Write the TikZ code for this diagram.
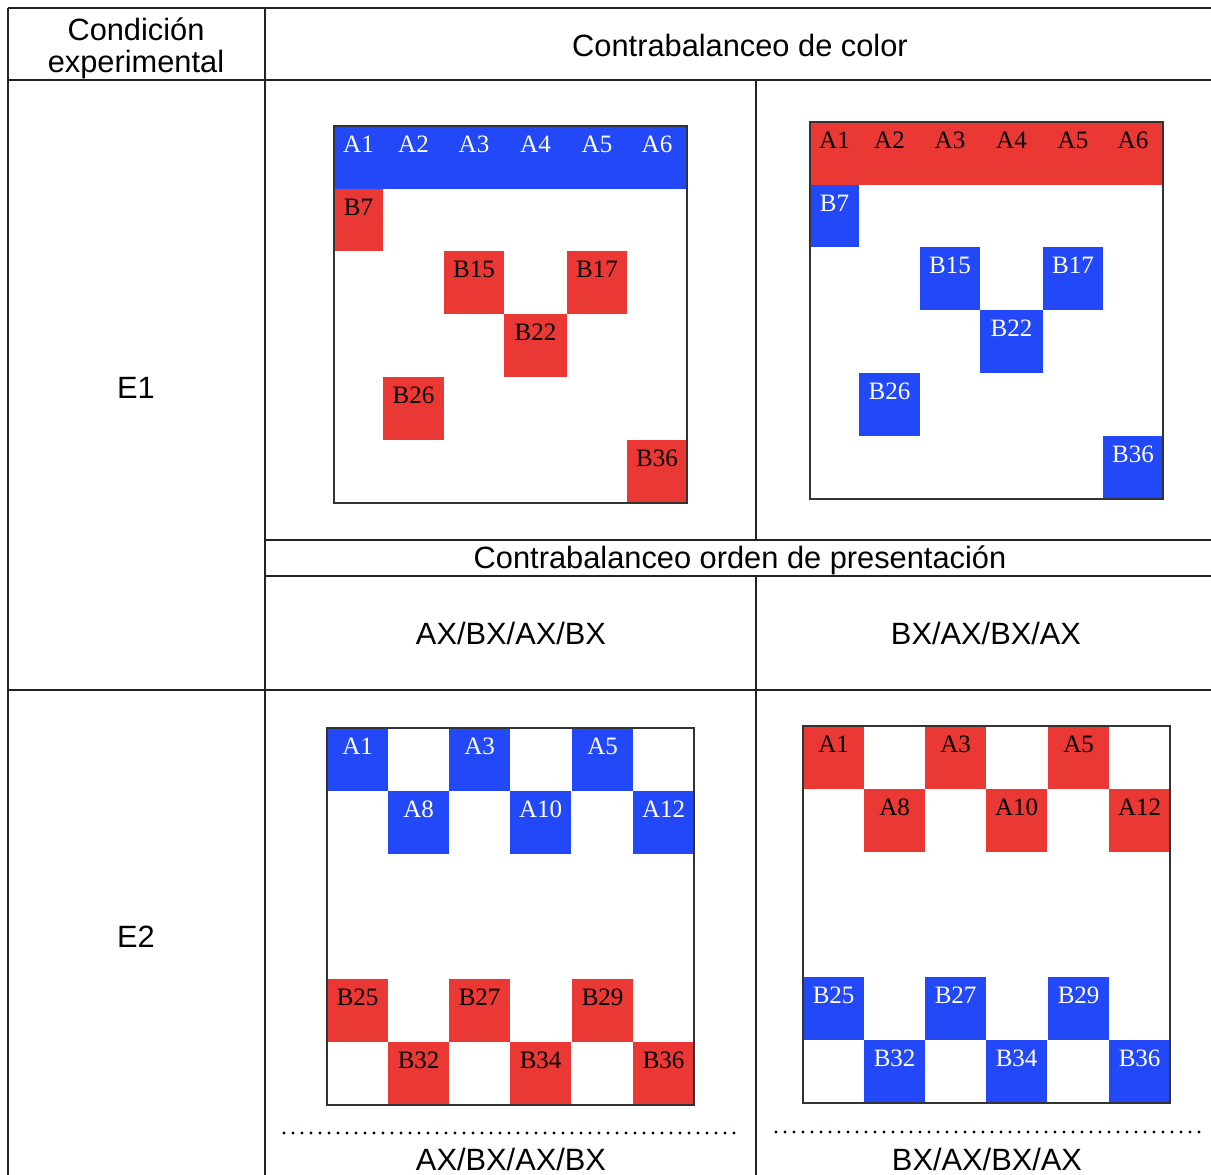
\documentclass[tikz,border=0pt]{standalone}
\usepackage{fontspec}
\setmainfont{Liberation Sans}
\newfontfamily\cellfont{Liberation Serif}
\definecolor{cblue}{HTML}{2348F7}
\definecolor{cred}{HTML}{EA3834}
\definecolor{rule}{HTML}{222222}
\definecolor{frame}{HTML}{333333}
\tikzset{
  tabline/.style={draw=rule, line width=1.5pt},
  hdr/.style={font=\fontsize{30.8}{36}\selectfont, anchor=base, inner sep=0pt},
  cellbox/.style={draw=none, inner sep=0pt, outer sep=0pt, rectangle, anchor=north west},
  celllabel/.style={font=\cellfont\fontsize{25}{28}\selectfont, anchor=base, inner sep=0pt},
  gridframe/.style={draw=frame, line width=2pt, fill=none, inner sep=0pt, outer sep=0pt, rectangle, anchor=north west},
  dotline/.style={draw=black!80!blue, line width=3.2pt, line cap=round, dash pattern=on 0pt off 9pt},
}
% name, x, y, w, h, fill, textcolour, label
\newcommand\mkcell[8]{%
  \node[cellbox, fill=#6, minimum width=#4, minimum height=#5] (#1) at (#2,#3) {};
  \node[celllabel, text=#7] (#1t) at ([yshift=-26pt]#1.north) {#8};}
\begin{document}
\begin{tikzpicture}[x=1pt, y=-1pt]
\useasboundingbox (0,0) rectangle (1211,1175);
\fill[white] (0,0) rectangle (1211,1175);

% ---- table rules
\draw[tabline] (8,8) -- (1211,8);
\draw[tabline] (8,80) -- (1211,80);
\draw[tabline] (265,540) -- (1211,540);
\draw[tabline] (265,576) -- (1211,576);
\draw[tabline] (8,690) -- (1211,690);
\draw[tabline] (8,8) -- (8,1175);
\draw[tabline] (265,8) -- (265,1175);
\draw[tabline] (756,80) -- (756,540);
\draw[tabline] (756,576) -- (756,1175);

% ---- header texts
\node[hdr] (cond1) at (136,40) {Condición};
\node[hdr] (cond2) at (136,72) {experimental};
\node[hdr] (hcolor) at (740,56) {Contrabalanceo de color};
\node[hdr] (e1) at (136,398) {E1};
\node[hdr] (e2) at (136,947) {E2};
\node[hdr] (horden) at (740,568) {Contrabalanceo orden de presentación};
\node[hdr] (ord1) at (511,644) {AX/BX/AX/BX};
\node[hdr] (ord2) at (986,644) {BX/AX/BX/AX};
\node[hdr] (ord3) at (511,1170) {AX/BX/AX/BX};
\node[hdr] (ord4) at (987,1170) {BX/AX/BX/AX};

% ---- dotted lines
\coordinate (d1a) at (284,1133);
\coordinate (d1b) at (740,1133);
\coordinate (d2a) at (776,1132);
\coordinate (d2b) at (1200,1132);
\draw[dotline] (d1a) -- (d1b);
\draw[dotline] (d2a) -- (d2b);

% ---- Grid 1 (E1, left): blue A row, red B cells
\node[cellbox, fill=cblue, minimum width=353, minimum height=63] (g1a) at (334,126) {};
\foreach \lab/\cx in {A1/358.5, A2/413.5, A3/474, A4/535.5, A5/597, A6/657}
  \node[celllabel, text=white] (g1\lab) at (\cx,152) {\lab};
\mkcell{g1b7}{334}{189}{49}{62}{cred}{black}{B7}
\mkcell{g1b15}{444}{251}{60}{63}{cred}{black}{B15}
\mkcell{g1b17}{567}{251}{60}{63}{cred}{black}{B17}
\mkcell{g1b22}{504}{314}{63}{63}{cred}{black}{B22}
\mkcell{g1b26}{383}{377}{61}{63}{cred}{black}{B26}
\mkcell{g1b36}{627}{440}{60}{63}{cred}{black}{B36}
\node[gridframe, minimum width=353, minimum height=377] (g1) at (334,126) {};

% ---- Grid 2 (E1, right): red A row, blue B cells
\node[cellbox, fill=cred, minimum width=353, minimum height=63] (g2a) at (810,122) {};
\foreach \lab/\cx in {A1/834.5, A2/889.5, A3/950, A4/1011.5, A5/1073, A6/1133}
  \node[celllabel, text=black] (g2\lab) at (\cx,148) {\lab};
\mkcell{g2b7}{810}{185}{49}{62}{cblue}{white}{B7}
\mkcell{g2b15}{920}{247}{60}{63}{cblue}{white}{B15}
\mkcell{g2b17}{1043}{247}{60}{63}{cblue}{white}{B17}
\mkcell{g2b22}{980}{310}{63}{63}{cblue}{white}{B22}
\mkcell{g2b26}{859}{373}{61}{63}{cblue}{white}{B26}
\mkcell{g2b36}{1103}{436}{60}{63}{cblue}{white}{B36}
\node[gridframe, minimum width=353, minimum height=377] (g2) at (810,122) {};

% ---- Grid 3 (E2, left): blue A cells, red B cells
\mkcell{g3a1}{327}{728}{61.2}{63}{cblue}{white}{A1}
\mkcell{g3a3}{449}{728}{61.2}{63}{cblue}{white}{A3}
\mkcell{g3a5}{572}{728}{61.2}{63}{cblue}{white}{A5}
\mkcell{g3a8}{388}{791}{61.2}{63}{cblue}{white}{A8}
\mkcell{g3a10}{510}{791}{61.2}{63}{cblue}{white}{A10}
\mkcell{g3a12}{633}{791}{61.2}{63}{cblue}{white}{A12}
\mkcell{g3b25}{327}{979}{61.2}{63}{cred}{black}{B25}
\mkcell{g3b27}{449}{979}{61.2}{63}{cred}{black}{B27}
\mkcell{g3b29}{572}{979}{61.2}{63}{cred}{black}{B29}
\mkcell{g3b32}{388}{1042}{61.2}{63}{cred}{black}{B32}
\mkcell{g3b34}{510}{1042}{61.2}{63}{cred}{black}{B34}
\mkcell{g3b36}{633}{1042}{61.2}{63}{cred}{black}{B36}
\node[gridframe, minimum width=367, minimum height=377] (g3) at (327,728) {};

% ---- Grid 4 (E2, right): red A cells, blue B cells
\mkcell{g4a1}{803}{726}{61.2}{63}{cred}{black}{A1}
\mkcell{g4a3}{925}{726}{61.2}{63}{cred}{black}{A3}
\mkcell{g4a5}{1048}{726}{61.2}{63}{cred}{black}{A5}
\mkcell{g4a8}{864}{789}{61.2}{63}{cred}{black}{A8}
\mkcell{g4a10}{986}{789}{61.2}{63}{cred}{black}{A10}
\mkcell{g4a12}{1109}{789}{61.2}{63}{cred}{black}{A12}
\mkcell{g4b25}{803}{977}{61.2}{63}{cblue}{white}{B25}
\mkcell{g4b27}{925}{977}{61.2}{63}{cblue}{white}{B27}
\mkcell{g4b29}{1048}{977}{61.2}{63}{cblue}{white}{B29}
\mkcell{g4b32}{864}{1040}{61.2}{63}{cblue}{white}{B32}
\mkcell{g4b34}{986}{1040}{61.2}{63}{cblue}{white}{B34}
\mkcell{g4b36}{1109}{1040}{61.2}{63}{cblue}{white}{B36}
\node[gridframe, minimum width=367, minimum height=377] (g4) at (803,726) {};
\end{tikzpicture}
\end{document}
